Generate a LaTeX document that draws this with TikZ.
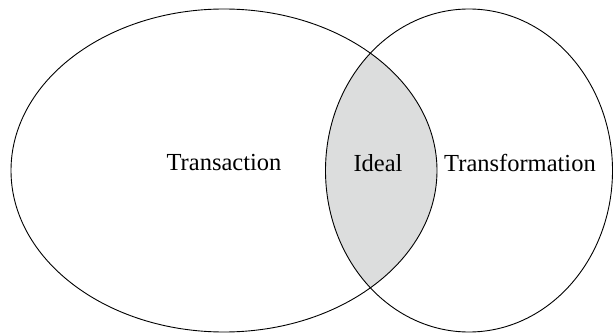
\documentclass[tikz,border=0pt]{standalone}
\usepackage{fontspec}
\setmainfont{Liberation Serif}
\usetikzlibrary{positioning,shapes.geometric}
\definecolor{idealgray}{RGB}{220,221,221}

\begin{document}
\begin{tikzpicture}[x=1pt, y=1pt, line width=0.9pt, font=\fontsize{24.5}{28}\selectfont,
  main/.style = {draw, ellipse, inner sep=0pt}]
\useasboundingbox (0,0) rectangle (613,335);

% shaded overlap
\begin{scope}
\clip (224,164.5) ellipse [x radius=213, y radius=161.5];
\fill[idealgray] (469,164.5) ellipse [x radius=143.5, y radius=161.5];
\end{scope}

\node[main, minimum width=426pt, minimum height=323pt] (trans) at (224,164.5) {};
\node[main, minimum width=287pt, minimum height=323pt] (transf) at (469,164.5) {};

\node (tlabel) at (224,172) {Transaction};
\node (ilabel) at (378,172) {Ideal};
\node (flabel) at (520,172) {Transformation};

\end{tikzpicture}
\end{document}
